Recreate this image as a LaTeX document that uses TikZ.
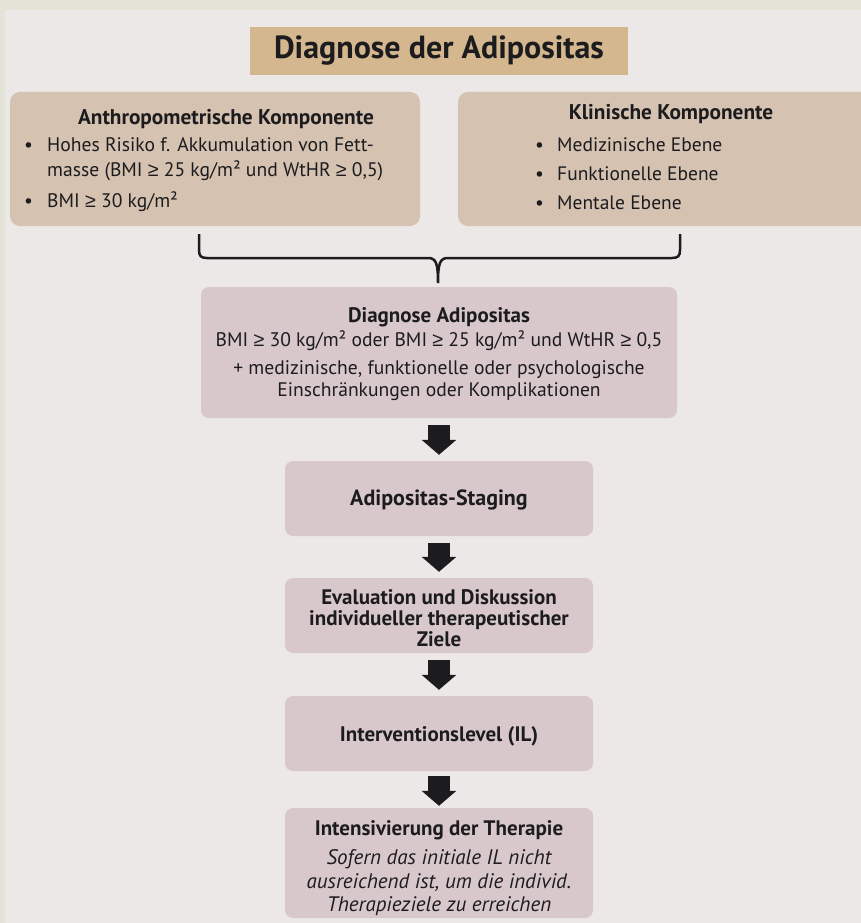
\documentclass[tikz,border=0pt]{standalone}
\usepackage{fontspec}
\setmainfont{PT Sans}
\newfontfamily\symfont{Liberation Sans}
\newcommand{\GEsign}{{\symfont ≥}}
\newcommand{\lift}[1]{\rule{0pt}{#1}}
\usetikzlibrary{arrows.meta}

\definecolor{bandcol}{HTML}{E3E3D7}
\definecolor{bgcol}{HTML}{ECE8E7}
\definecolor{titlecol}{HTML}{D4B78F}
\definecolor{compcol}{HTML}{D5C2B1}
\definecolor{flowcol}{HTML}{D9C8CB}
\definecolor{inkcol}{HTML}{1C1C1E}

\begin{document}
\begin{tikzpicture}[x=1pt,y=-1pt,
	every node/.append style={text=inkcol},
	titlebox/.style={fill=titlecol, minimum width=378pt, minimum height=48pt, inner sep=0pt, font=\fontsize{32}{34}\selectfont\bfseries},
	compbox/.style={fill=compcol, rounded corners=10pt, inner sep=0pt},
	flowbox/.style={fill=flowcol, rounded corners=8pt, minimum width=308pt, minimum height=75pt, inner sep=0pt, align=center, font=\fontsize{21}{21}\selectfont\bfseries},
	head/.style={inner sep=0pt, font=\fontsize{21.3}{22}\selectfont\bfseries},
	listtext/.style={inner sep=0pt, anchor=base west, font=\fontsize{19.6}{25}\selectfont},
	blockarrow/.style={draw=inkcol, line width=22pt, -{Triangle[width=34pt,length=15pt]}},
	bracestyle/.style={draw=inkcol, line width=2.5pt}]
	% background and frame
	\useasboundingbox (0,0) rectangle (861,923);
	\fill[bandcol] (0,0) rectangle (861,923);
	\fill[bgcol] (5,10) rectangle (861,923);

	\node[titlebox] (title) at (439,51) {Diagnose der Adipositas};

	% the two components
	\node[compbox, minimum width=410pt, minimum height=134pt] (anthro) at (215,159) {};
	\node[compbox, minimum width=426pt, minimum height=134pt] (klinisch) at (671,159) {};
	\node[head] (anthrohead) at (226,119) {Anthropometrische Komponente};
	\node[head] (klinischhead) at (671,114) {Klinische Komponente};
	\node[listtext] (anthrolist) at (24,151) {\begin{tabular}[t]{@{}p{23pt}@{}l@{}}
		• & Hohes Risiko f. Akkumulation von Fett-\\
		  & masse (BMI \GEsign{} 25 kg/m² und WtHR \GEsign{} 0,5)\\[6pt]
		• & BMI \GEsign{} 30 kg/m²
	\end{tabular}};
	\node[listtext, font=\fontsize{19.5}{29}\selectfont] (klinischlist) at (535,151) {\begin{tabular}[t]{@{}p{22pt}@{}l@{}}
		• & Medizinische Ebene\\
		• & Funktionelle Ebene\\
		• & Mentale Ebene
	\end{tabular}};

	% brace joining both components
	\coordinate (braceL) at (199,234);
	\coordinate (braceR) at (680,234);
	\coordinate (braceM) at (438,283);
	\draw[bracestyle] (braceL) -- (199,250) .. controls (199,256) and (201,258) .. (207,258)
		-- (428,258) .. controls (436,258) and (438,263) .. (braceM)
		.. controls (438,263) and (440,258) .. (448,258)
		-- (672,258) .. controls (678,258) and (680,256) .. (680,250) -- (braceR);

	% flow
	\node[flowbox, minimum width=476pt, minimum height=131pt, font=\fontsize{19.6}{24}\selectfont] (diag) at (439,352.5)
		{\lift{19pt}{\bfseries\fontsize{21}{24}\selectfont Diagnose Adipositas}\\
		BMI \GEsign{} 30 kg/m² oder BMI \GEsign{} 25 kg/m² und WtHR \GEsign{} 0,5\\[4pt]
		+ medizinische, funktionelle oder psychologische\\[-2pt]
		Einschränkungen oder Komplikationen};
	\node[flowbox, font=\fontsize{22}{22}\selectfont\bfseries] (staging) at (439,498.5) {\lift{19pt}Adipositas-Staging};
	\node[flowbox] (eval) at (439,615.5) {\lift{21pt}Evaluation und Diskussion\\individueller therapeutischer\\Ziele};
	\node[flowbox] (level) at (439,733.5) {\lift{20pt}Interventionslevel (IL)};
	\node[flowbox, minimum height=110pt, font=\fontsize{21}{23.5}\selectfont] (intens) at (439,863)
		{\lift{25pt}{\bfseries Intensivierung der Therapie}\\[6pt]
		\itshape Sofern das initiale IL nicht\\
		\itshape ausreichend ist, um die individ.\\
		\itshape Therapieziele zu erreichen};

	\path (diag) edge[blockarrow, shorten <=7pt, shorten >=6pt] (staging);
	\path (staging) edge[blockarrow, shorten <=7pt, shorten >=6pt] (eval);
	\path (eval) edge[blockarrow, shorten <=7pt, shorten >=6pt] (level);
	\path (level) edge[blockarrow, shorten <=5pt, shorten >=2pt] (intens);
\end{tikzpicture}
\end{document}
